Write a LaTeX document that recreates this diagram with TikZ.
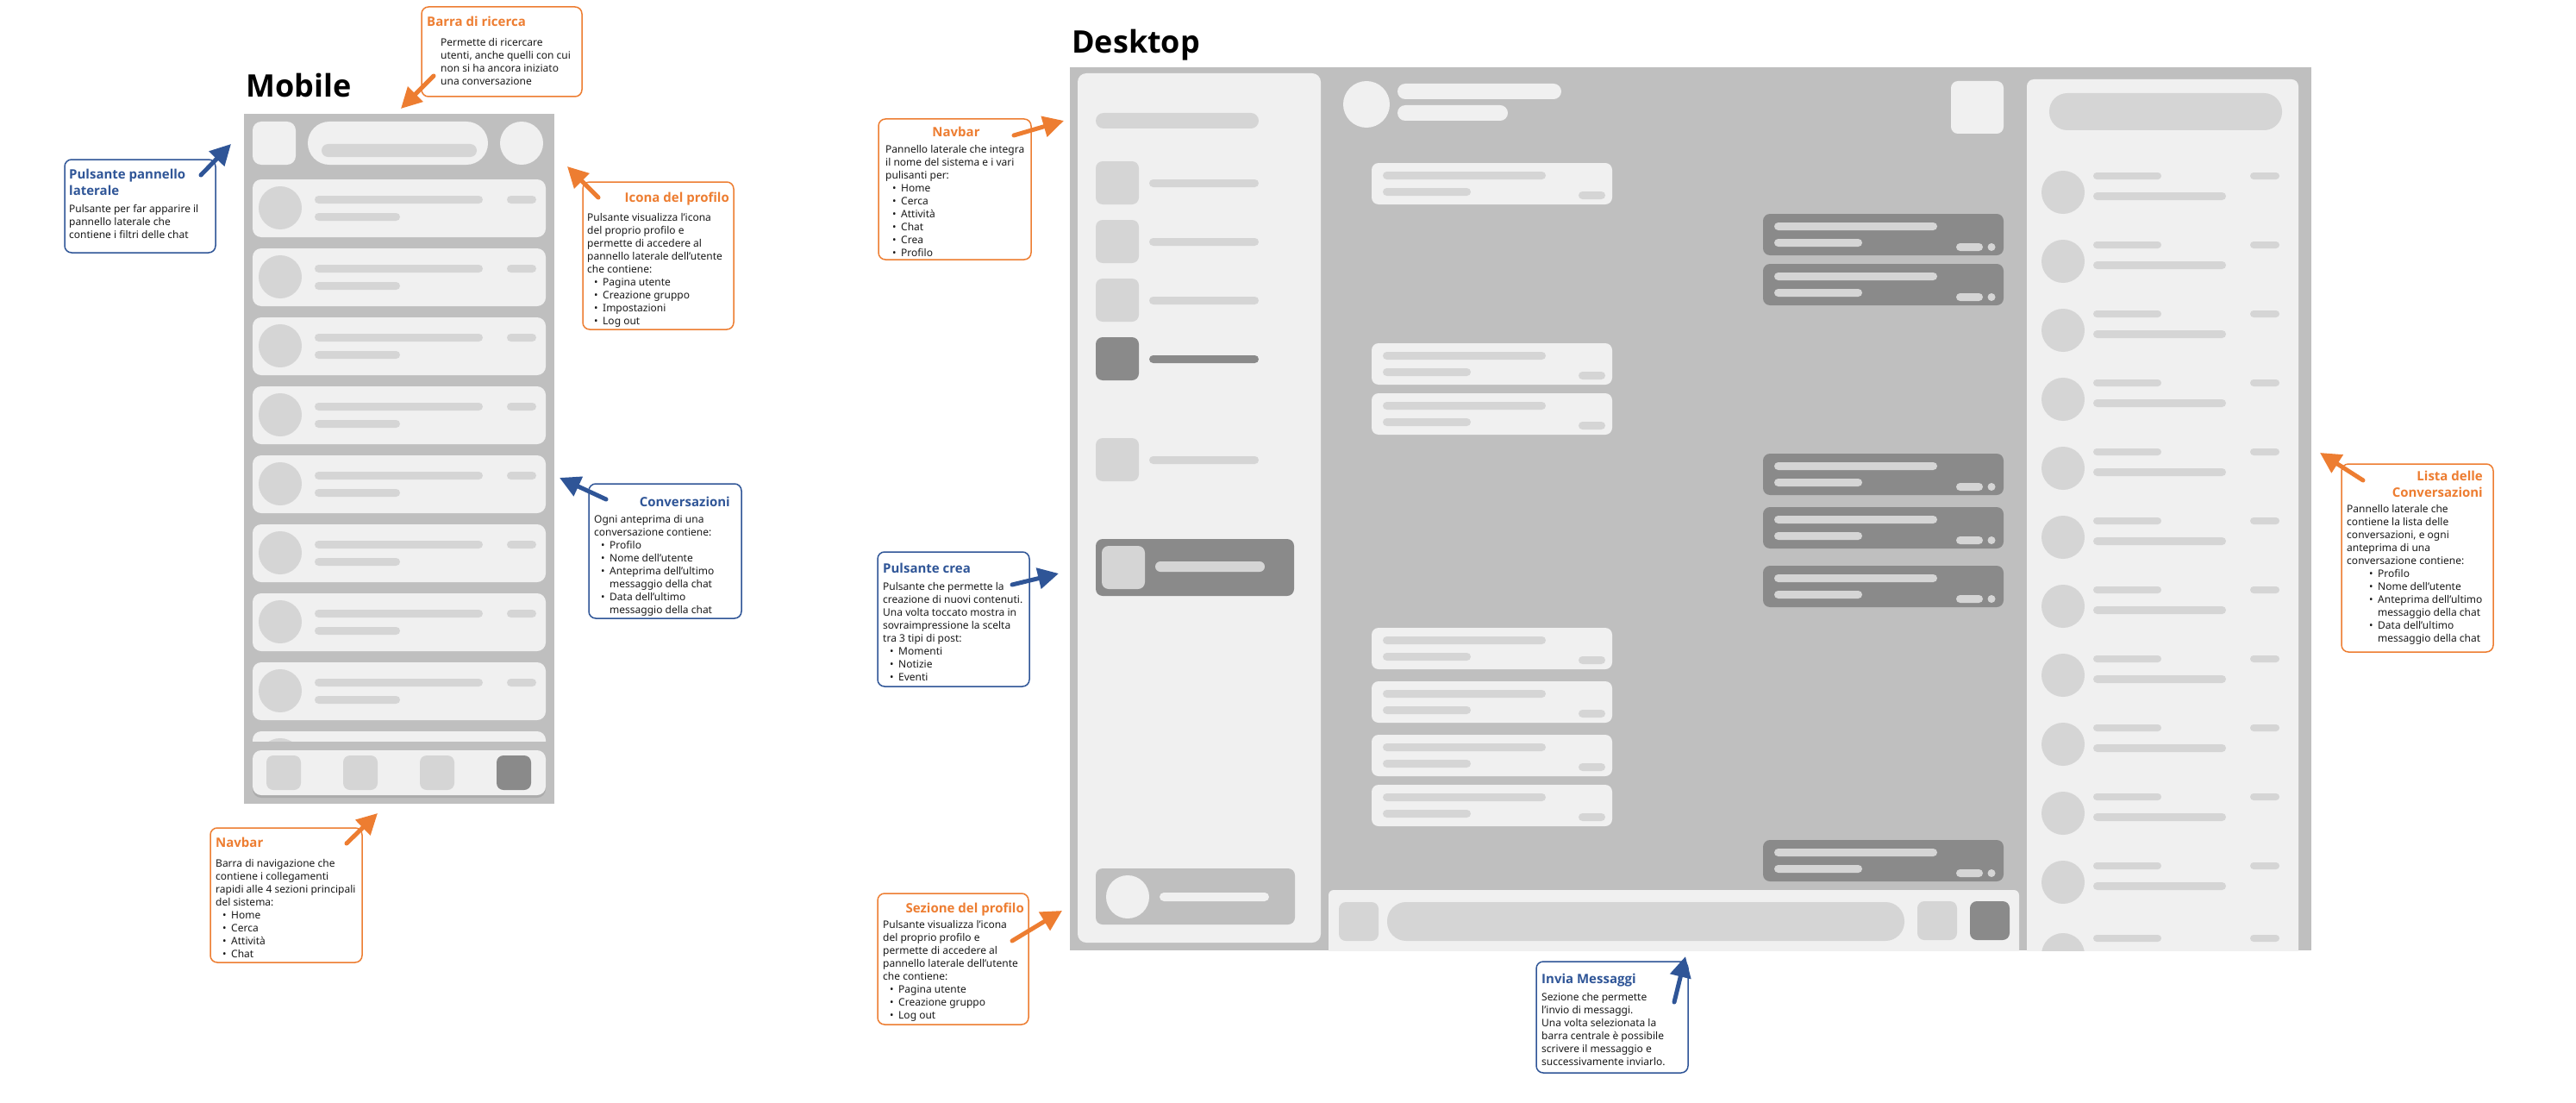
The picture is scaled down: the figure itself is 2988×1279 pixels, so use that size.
\documentclass[tikz,border=0pt]{standalone}
\usepackage{fontspec}
\setmainfont{Noto Sans}
\newfontfamily\titolofont{Open Sans}
\usetikzlibrary{arrows.meta,calc,shadows}

\definecolor{arancio}{HTML}{ED7D31}
\definecolor{blu}{HTML}{2F5597}
\definecolor{telaio}{HTML}{BFBFBF}
\definecolor{chiaro}{HTML}{F0F0F0}
\definecolor{segna}{HTML}{D5D5D5}
\definecolor{scuro}{HTML}{8A8A8A}
\definecolor{testo}{HTML}{1A1A1A}

\tikzset{
  sfondo/.style={fill=telaio},
  blocco/.style={fill=chiaro},
  segnaposto/.style={fill=segna},
  attivo/.style={fill=scuro},
  nota/.style={draw, line width=1.5pt, rounded corners=8pt, fill=white, anchor=north west, inner sep=0pt, outer sep=0pt},
  notaA/.style={nota, draw=arancio},
  notaB/.style={nota, draw=blu},
  corpo/.style={font=\fontsize{12}{15}\selectfont, text=testo, align=left, inner sep=0pt, anchor=base west},
  titolo/.style={font=\titolofont\fontsize{15}{19}\selectfont\bfseries, inner sep=0pt},
  titolone/.style={font=\titolofont\fontsize{36}{40}\selectfont\bfseries, inner sep=0pt},
  freccia/.style={line width=5pt, line cap=round, -{Triangle[length=24pt,width=24pt]}},
}

\newcommand{\punto}[1][8]{\hspace*{#1pt}\makebox[10pt][l]{\textbullet}}
\newcommand{\segue}[1][8]{\hspace*{#1pt}\hspace*{10pt}}

\begin{document}
\begin{tikzpicture}[x=1pt, y=-1pt]
\useasboundingbox (0,0) rectangle (2988,1279);

%% mobile
\node[titolone, anchor=base west] (mobile) at (285,113) {Mobile};
\fill[sfondo] (283,132) rectangle (643,932);
\fill[blocco, rounded corners=10pt] (293,141) rectangle (343,191);
\fill[blocco, rounded corners=25pt] (357,141) rectangle (566,191);
\fill[segnaposto, rounded corners=7.5pt] (373,167) rectangle (553,182);
\fill[blocco] (605,166) circle (25pt);
\foreach \y in {208,288,...,848}{
  \fill[blocco, rounded corners=10pt] (293,\y) rectangle (633,\y+67);
  \fill[segnaposto] (325,\y+33) circle (25pt);
  \fill[segnaposto, rounded corners=4.5pt] (365,\y+19) rectangle (560,\y+28);
  \fill[segnaposto, rounded corners=4.5pt] (365,\y+39) rectangle (464,\y+48);
  \fill[segnaposto, rounded corners=4.5pt] (588,\y+19) rectangle (622,\y+28);
}
%% navbar mobile
\fill[sfondo] (283,860) rectangle (643,932);
\fill[blocco, rounded corners=10pt, drop shadow={shadow xshift=0pt, shadow yshift=-3pt, opacity=.3}] (293,870) rectangle (633,922);
\foreach \x in {309,398,487}{
  \fill[segnaposto, rounded corners=8pt] (\x,876) rectangle (\x+40,916);
}
\fill[attivo, rounded corners=8pt] (576,876) rectangle (616,916);

%% desktop
\node[titolone, anchor=base west] (desktop) at (1243,62) {Desktop};
\begin{scope}
\clip (1241,78) rectangle (2681,1102);
\fill[sfondo] (1241,78) rectangle (2681,1102);
%% sidebar
\fill[blocco, rounded corners=10pt] (1250,85) rectangle (1532,1093);
\fill[segnaposto, rounded corners=9pt] (1271,131) rectangle (1460,149);
\foreach \y in {187,255,323,508}{
  \fill[segnaposto, rounded corners=8pt] (1271,\y) rectangle (1321,\y+50);
  \fill[segnaposto, rounded corners=4.5pt] (1333,\y+21) rectangle (1460,\y+30);
}
\fill[attivo, rounded corners=8pt] (1271,391) rectangle (1321,441);
\fill[attivo, rounded corners=4.5pt] (1333,412) rectangle (1460,421);
\fill[attivo, rounded corners=8pt] (1271,625) rectangle (1501,691);
\fill[segnaposto, rounded corners=8pt] (1278,633) rectangle (1328,683);
\fill[segnaposto, rounded corners=6pt] (1340,651) rectangle (1467,663);
\fill[sfondo, rounded corners=8pt] (1271,1007) rectangle (1502,1072);
\fill[blocco] (1308,1040) circle (25pt);
\fill[blocco, rounded corners=5pt] (1345,1035) rectangle (1472,1045);
%% chat
\fill[blocco] (1585,121) circle (27pt);
\fill[blocco, rounded corners=9pt] (1621,97) rectangle (1811,115);
\fill[blocco, rounded corners=9pt] (1621,122) rectangle (1749,140);
\fill[blocco, rounded corners=8pt] (2263,94) rectangle (2324,155);
\foreach \y in {189,398,456,728,790,852,910}{
  \fill[blocco, rounded corners=8pt] (1591,\y) rectangle (1870,\y+48);
  \fill[segnaposto, rounded corners=4.5pt] (1604,\y+10) rectangle (1793,\y+19);
  \fill[segnaposto, rounded corners=4.5pt] (1604,\y+29) rectangle (1706,\y+38);
  \fill[segnaposto, rounded corners=4.5pt] (1831,\y+33) rectangle (1862,\y+42);
}
\foreach \y in {248,306,526,588,656,974}{
  \fill[attivo, rounded corners=8pt] (2045,\y) rectangle (2324,\y+48);
  \fill[segnaposto, rounded corners=4.5pt] (2058,\y+10) rectangle (2247,\y+19);
  \fill[segnaposto, rounded corners=4.5pt] (2058,\y+29) rectangle (2160,\y+38);
  \fill[segnaposto, rounded corners=4.5pt] (2269,\y+34) rectangle (2300,\y+43);
  \fill[segnaposto] (2310,\y+38.5) circle (4.5pt);
}
%% input
\fill[blocco, rounded corners=6pt] (1541,1032) rectangle (2342,1120);
\fill[segnaposto, rounded corners=8pt] (1553,1046) rectangle (1599,1091);
\fill[segnaposto, rounded corners=22pt] (1609,1046) rectangle (2209,1091);
\fill[segnaposto, rounded corners=8pt] (2224,1045) rectangle (2270,1090);
\fill[attivo, rounded corners=8pt] (2285,1045) rectangle (2331,1090);
%% lista chat
\fill[blocco, rounded corners=8pt] (2351,92) rectangle (2666,1120);
\fill[segnaposto, rounded corners=21pt] (2377,108) rectangle (2647,151);
\foreach \y in {198,278,358,438,518,598,678,758,838,918,998,1082}{
  \fill[segnaposto] (2393,\y+25) circle (25pt);
  \fill[segnaposto, rounded corners=4pt] (2428,\y+2) rectangle (2507,\y+10);
  \fill[segnaposto, rounded corners=4.5pt] (2428,\y+25) rectangle (2582,\y+34);
  \fill[segnaposto, rounded corners=4pt] (2610,\y+2) rectangle (2644,\y+10);
}
\end{scope}

%% barra di ricerca
\node[notaA, minimum width=186pt, minimum height=104pt] (ricerca) at (489,8) {};
\node[titolo, text=arancio, anchor=base west] (ricercaT) at (495,31) {Barra di ricerca};
\node[corpo] (ricercaC) at (511,99) {Permette di ricercare\\utenti, anche quelli con cui\\non si ha ancora iniziato\\una conversazione};
\coordinate (ricercaP) at (465,126);
\draw[freccia, arancio] ($(ricerca.north west)+(14,80)$) -- (ricercaP);

%% pulsante pannello
\node[notaB, minimum width=175pt, minimum height=108pt] (pannello) at (75,185) {};
\node[titolo, text=blu, anchor=base west, align=left] (pannelloT) at (80,226) {Pulsante pannello\\laterale};
\node[corpo] (pannelloC) at (80,276) {Pulsante per far apparire il\\pannello laterale che\\contiene i filtri delle chat};
\coordinate (pannelloP) at (268,167);
\draw[freccia, blu] ($(pannello.north west)+(158,18)$) -- (pannelloP);

%% icona del profilo
\node[notaA, minimum width=175pt, minimum height=171pt] (icona) at (676,211) {};
\node[titolo, text=arancio, anchor=base east] (iconaT) at (846,234) {Icona del profilo};
\node[corpo] (iconaC) at (681,376) {Pulsante visualizza l’icona\\del proprio profilo e\\permette di accedere al\\pannello laterale dell’utente\\che contiene:\\\punto Pagina utente\\\punto Creazione gruppo\\\punto Impostazioni\\\punto Log out};
\coordinate (iconaP) at (658,193);
\draw[freccia, arancio] ($(icona.north west)+(18,18)$) -- (iconaP);

%% conversazioni
\node[notaB, minimum width=177pt, minimum height=156pt] (conv) at (683,561) {};
\node[titolo, text=blu, anchor=base east] (convT) at (847,587) {Conversazioni};
\node[corpo] (convC) at (689,711) {Ogni anteprima di una\\conversazione contiene:\\\punto Profilo\\\punto Nome dell’utente\\\punto Anteprima dell’ultimo\\\segue messaggio della chat\\\punto Data dell’ultimo\\\segue messaggio della chat};
\coordinate (convP) at (649,554);
\draw[freccia, blu] ($(conv.north west)+(20,18)$) -- (convP);

%% navbar mobile
\node[notaA, minimum width=176pt, minimum height=156pt] (navM) at (244,960) {};
\node[titolo, text=arancio, anchor=base west] (navMT) at (250,982) {Navbar};
\node[corpo] (navMC) at (250,1110) {Barra di navigazione che\\contiene i collegamenti\\rapidi alle 4 sezioni principali\\del sistema:\\\punto Home\\\punto Cerca\\\punto Attività\\\punto Chat};
\coordinate (navMP) at (438,943);
\draw[freccia, arancio] ($(navM.north west)+(158,18)$) -- (navMP);

%% navbar desktop
\node[notaA, minimum width=177pt, minimum height=163pt] (navD) at (1019,138) {};
\node[titolo, text=arancio, anchor=base] (navDT) at (1109,159) {Navbar};
\node[corpo] (navDC) at (1027,297) {Pannello laterale che integra\\il nome del sistema e i vari\\pulisanti per:\\\punto Home\\\punto Cerca\\\punto Attività\\\punto Chat\\\punto Crea\\\punto Profilo};
\coordinate (navDP) at (1234,140);
\draw[freccia, arancio] ($(navD.north west)+(157,19)$) -- (navDP);

%% pulsante crea
\node[notaB, minimum width=176pt, minimum height=156pt] (crea) at (1018,640) {};
\node[titolo, text=blu, anchor=base west] (creaT) at (1024,664) {Pulsante crea};
\node[corpo] (creaC) at (1024,789) {Pulsante che permette la\\creazione di nuovi contenuti.\\Una volta toccato mostra in\\sovraimpressione la scelta\\tra 3 tipi di post:\\\punto Momenti\\\punto Notizie\\\punto Eventi};
\coordinate (creaP) at (1228,665);
\draw[freccia, blu] ($(crea.north west)+(156,38)$) -- (creaP);

%% sezione del profilo
\node[notaA, minimum width=175pt, minimum height=152pt] (sez) at (1018,1036) {};
\node[titolo, text=arancio, anchor=base east] (sezT) at (1188,1058) {Sezione del profilo};
\node[corpo] (sezC) at (1024,1181) {Pulsante visualizza l’icona\\del proprio profilo e\\permette di accedere al\\pannello laterale dell’utente\\che contiene:\\\punto Pagina utente\\\punto Creazione gruppo\\\punto Log out};
\coordinate (sezP) at (1232,1056);
\draw[freccia, arancio] ($(sez.north west)+(156,55)$) -- (sezP);

%% invia messaggi
\node[notaB, minimum width=176pt, minimum height=129pt] (invia) at (1782,1115) {};
\node[titolo, text=blu, anchor=base west] (inviaT) at (1788,1140) {Invia Messaggi};
\node[corpo] (inviaC) at (1788,1235) {Sezione che permette\\l’invio di messaggi.\\Una volta selezionata la\\barra centrale è possibile\\scrivere il messaggio e\\successivamente inviarlo.};
\coordinate (inviaP) at (1955,1109);
\draw[freccia, blu] ($(invia.north west)+(160,47)$) -- (inviaP);

%% lista delle conversazioni
\node[notaA, minimum width=176pt, minimum height=218pt] (lista) at (2716,538) {};
\node[titolo, text=arancio, anchor=base east, align=right] (listaT) at (2880,576) {Lista delle\\Conversazioni};
\node[corpo] (listaC) at (2722,744) {Pannello laterale che\\contiene la lista delle\\conversazioni, e ogni\\anteprima di una\\conversazione contiene:\\\punto[26]Profilo\\\punto[26]Nome dell’utente\\\punto[26]Anteprima dell’ultimo\\\segue[26]messaggio della chat\\\punto[26]Data dell’ultimo\\\segue[26]messaggio della chat};
\coordinate (listaP) at (2691,525);
\draw[freccia, arancio] ($(lista.north west)+(25,19)$) -- (listaP);
\end{tikzpicture}
\end{document}
